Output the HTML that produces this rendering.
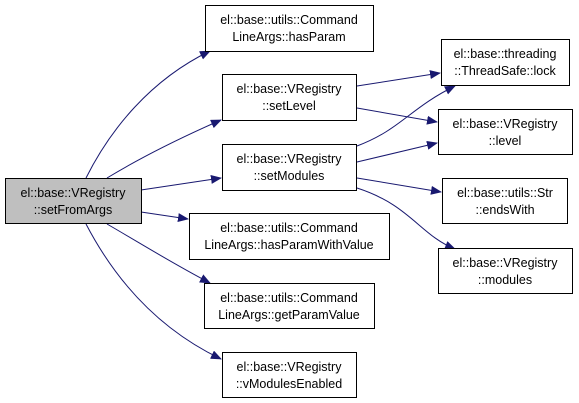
<!DOCTYPE html>
<html><head><meta charset="utf-8"><style>html,body{margin:0;padding:0;background:#fff}svg{display:block}text{font-family:"Liberation Sans",Helvetica,sans-serif;font-size:12.5px;fill:#000}</style></head><body>
<svg width="579" height="403" viewBox="0 0 579 403" xmlns="http://www.w3.org/2000/svg">
<defs><marker id="a" markerWidth="11" markerHeight="9" refX="10" refY="4.5" orient="auto" markerUnits="userSpaceOnUse"><path d="M0,0 L11,4.5 L0,9 z" fill="#191970"/></marker></defs>
<g fill="none" stroke="#191970" stroke-width="1" marker-end="url(#a)">
<path d="M86,178 C110,130 150,80 210,51"/>
<path d="M107,178 C140,158 180,138 221,120"/>
<path d="M141,190 L221,178"/>
<path d="M141,212 L188,219"/>
<path d="M107,224 C140,243 170,262 210,283"/>
<path d="M86,224 C110,270 150,325 221,359"/>
<path d="M357,86 L440,73"/>
<path d="M357,108 L437,122"/>
<path d="M357,146 C400,130 410,108 455,86"/>
<path d="M357,162 L437,143"/>
<path d="M357,178 L441,192"/>
<path d="M357,188 C410,205 420,235 455,249"/>
</g>
<g fill="#fff" stroke="#000" stroke-width="1">
<rect x="5.5" y="178.5" width="136" height="45" fill="#bfbfbf"/>
<rect x="205.5" y="5.5" width="168" height="46"/>
<rect x="222.5" y="74.5" width="134" height="46"/>
<rect x="222.5" y="144.5" width="134" height="46"/>
<rect x="189.5" y="213.5" width="200" height="46"/>
<rect x="204.5" y="283.5" width="170" height="45"/>
<rect x="222.5" y="352.5" width="134" height="45"/>
<rect x="441.5" y="39.5" width="128" height="46"/>
<rect x="438.5" y="109.5" width="134" height="45"/>
<rect x="442.5" y="178.5" width="125" height="45"/>
<rect x="438.5" y="248.5" width="134" height="45"/>
</g>
<g text-anchor="middle">
<text x="73" y="197">el::base::VRegistry</text><text x="73" y="214">::setFromArgs</text>
<text x="289" y="24">el::base::utils::Command</text><text x="289" y="41">LineArgs::hasParam</text>
<text x="289" y="93">el::base::VRegistry</text><text x="289" y="110">::setLevel</text>
<text x="289" y="163">el::base::VRegistry</text><text x="289" y="180">::setModules</text>
<text x="289" y="232">el::base::utils::Command</text><text x="289" y="249">LineArgs::hasParamWithValue</text>
<text x="289" y="302">el::base::utils::Command</text><text x="289" y="319">LineArgs::getParamValue</text>
<text x="289" y="371">el::base::VRegistry</text><text x="289" y="388">::vModulesEnabled</text>
<text x="505" y="58">el::base::threading</text><text x="505" y="75">::ThreadSafe::lock</text>
<text x="505" y="128">el::base::VRegistry</text><text x="505" y="145">::level</text>
<text x="505" y="197">el::base::utils::Str</text><text x="505" y="214">::endsWith</text>
<text x="505" y="267">el::base::VRegistry</text><text x="505" y="284">::modules</text>
</g>
</svg>
</body></html>
